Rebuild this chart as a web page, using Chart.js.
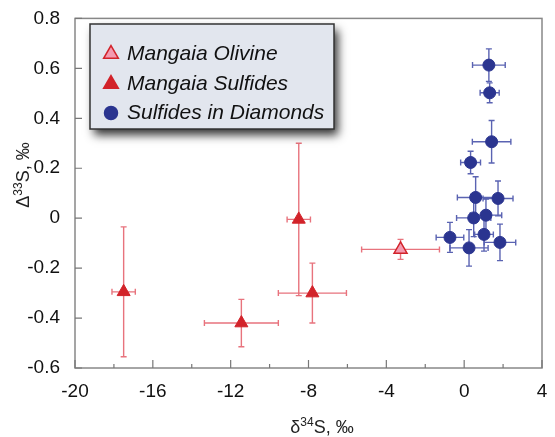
<!DOCTYPE html>
<html lang="en">
<head>
    <meta charset="UTF-8">
    <title>Sulfur isotopes</title>
    <script src="https://cdn.jsdelivr.net/npm/chart.js"></script>
    <style>
        body { margin: 0; background: #fff; }
    </style>
</head>
<body>
<canvas id="isoChart" width="555" height="437"></canvas>

<script>
    // Tick values
    var xTicks = [-20, -16, -12, -8, -4, 0, 4];
    var xMinorTicks = [-18, -14, -10, -6, -2, 2];
    var yTicks = [-0.6, -0.4, -0.2, 0, 0.2, 0.4, 0.6, 0.8];

    // Mangaia olivine
    var olivineX = [-3.27];
    var olivineY = [-0.125];
    var olivineXErr = [2.0];
    var olivineYErr = [0.04];

    // Mangaia sulfides
    var sulfideX = [-17.5, -11.45, -8.5, -7.8];
    var sulfideY = [-0.295, -0.42, -0.005, -0.30];
    var sulfideXErr = [0.6, 1.9, 0.6, 1.75];
    var sulfideYErr = [0.26, 0.095, 0.305, 0.12];

    // Sulfides in diamonds
    var diamondX = [1.27, 1.31, 1.41, 0.33, 0.59, 1.74, 0.49, 1.12, -0.73, 1.02, 0.25, 1.84];
    var diamondY = [0.613, 0.502, 0.306, 0.223, 0.083, 0.079, 0.001, 0.012, -0.077, -0.065, -0.119, -0.097];
    var diamondXErr = [0.84, 0.49, 0.99, 0.51, 0.94, 0.77, 0.88, 0.81, 0.71, 0.48, 0.98, 0.81];
    var diamondYErr = [0.065, 0.04, 0.085, 0.045, 0.083, 0.07, 0.075, 0.065, 0.06, 0.067, 0.073, 0.073];

    var FONT = '"Liberation Sans", Arial, sans-serif';
    var RED = '#d2232a';
    var PINK = '#f49ab0';
    var BLUE = '#2b3590';

    function toPoints(xs, ys, xe, ye) {
        return xs.map(function(x, i) {
            return { x: x, y: ys[i], xErr: xe[i], yErr: ye[i] };
        });
    }

    // error bars, drawn under the markers
    var errorBars = {
        id: 'errorBars',
        beforeDatasetsDraw: function(chart) {
            var ctx = chart.ctx;
            var xs = chart.scales.x, ys = chart.scales.y;
            chart.data.datasets.forEach(function(ds) {
                ctx.save();
                ctx.strokeStyle = ds.errColor;
                ctx.lineWidth = 1.4;
                ds.data.forEach(function(p) {
                    var cx = xs.getPixelForValue(p.x), cy = ys.getPixelForValue(p.y);
                    var x0 = xs.getPixelForValue(p.x - p.xErr), x1 = xs.getPixelForValue(p.x + p.xErr);
                    var y0 = ys.getPixelForValue(p.y - p.yErr), y1 = ys.getPixelForValue(p.y + p.yErr);
                    var c = 3;
                    ctx.beginPath();
                    ctx.moveTo(x0, cy); ctx.lineTo(x1, cy);
                    ctx.moveTo(x0, cy - c); ctx.lineTo(x0, cy + c);
                    ctx.moveTo(x1, cy - c); ctx.lineTo(x1, cy + c);
                    ctx.moveTo(cx, y0); ctx.lineTo(cx, y1);
                    ctx.moveTo(cx - c, y0); ctx.lineTo(cx + c, y0);
                    ctx.moveTo(cx - c, y1); ctx.lineTo(cx + c, y1);
                    ctx.stroke();
                });
                ctx.restore();
            });
        }
    };

    // frame, inward ticks, axis titles and the legend box
    var decorations = {
        id: 'decorations',
        beforeDatasetsDraw: function(chart) {
            var ctx = chart.ctx, a = chart.chartArea;
            var xs = chart.scales.x, ys = chart.scales.y;
            ctx.save();
            ctx.strokeStyle = '#888';
            ctx.lineWidth = 1.5;
            ctx.strokeRect(a.left, a.top, a.right - a.left, a.bottom - a.top);
            ctx.strokeStyle = '#777';
            ctx.lineWidth = 1.2;
            ctx.beginPath();
            yTicks.forEach(function(v) {
                var y = ys.getPixelForValue(v);
                ctx.moveTo(a.left, y); ctx.lineTo(a.left + 7, y);
            });
            xTicks.forEach(function(v) {
                var x = xs.getPixelForValue(v);
                ctx.moveTo(x, a.bottom); ctx.lineTo(x, a.bottom - 8);
            });
            xMinorTicks.forEach(function(v) {
                var x = xs.getPixelForValue(v);
                ctx.moveTo(x, a.bottom); ctx.lineTo(x, a.bottom - 4);
            });
            ctx.stroke();
            ctx.restore();
        },
        afterDraw: function(chart) {
            var ctx = chart.ctx;
            ctx.save();

            // axis titles with superscripts
            function title(pre, sup, post, cx, cy) {
                ctx.font = '18px ' + FONT;
                var w1 = ctx.measureText(pre).width;
                var w3 = ctx.measureText(post).width;
                ctx.font = '12px ' + FONT;
                var w2 = ctx.measureText(sup).width;
                var x = cx - (w1 + w2 + w3) / 2;
                ctx.fillStyle = '#222';
                ctx.textBaseline = 'alphabetic';
                ctx.textAlign = 'left';
                ctx.font = '18px ' + FONT;
                ctx.fillText(pre, x, cy + 6);
                ctx.font = '12px ' + FONT;
                ctx.fillText(sup, x + w1, cy - 1);
                ctx.font = '18px ' + FONT;
                ctx.fillText(post, x + w1 + w2, cy + 6);
            }
            title('\u03b4', '34', 'S, \u2030', 322, 427);
            ctx.save();
            ctx.translate(23, 175);
            ctx.rotate(-Math.PI / 2);
            title('\u0394', '33', 'S, \u2030', 0, 0);
            ctx.restore();

            // legend box with shadow
            var lx = 90, ly = 24, lw = 244, lh = 105;
            ctx.save();
            ctx.shadowColor = 'rgba(0,0,0,0.8)';
            ctx.shadowBlur = 9;
            ctx.shadowOffsetX = 4;
            ctx.shadowOffsetY = 6;
            ctx.fillStyle = '#e2e6ee';
            ctx.fillRect(lx, ly, lw, lh);
            ctx.restore();
            ctx.strokeStyle = '#333';
            ctx.lineWidth = 1.5;
            ctx.strokeRect(lx, ly, lw, lh);

            var items = [
                { text: 'Mangaia Olivine', style: 'triangle', fill: PINK, stroke: RED, y: 54 },
                { text: 'Mangaia Sulfides', style: 'triangle', fill: RED, stroke: RED, y: 84 },
                { text: 'Sulfides in Diamonds', style: 'circle', fill: BLUE, stroke: BLUE, y: 113 }
            ];
            items.forEach(function(it) {
                ctx.fillStyle = it.fill;
                ctx.strokeStyle = it.stroke;
                ctx.lineWidth = 1.5;
                Chart.helpers.drawPoint(ctx, {
                    pointStyle: it.style,
                    radius: it.style === 'circle' ? 6.5 : 8.5,
                    borderWidth: 1.5,
                    rotation: 0
                }, 111, it.y);
                ctx.fillStyle = '#111';
                ctx.font = 'italic 21px ' + FONT;
                ctx.textAlign = 'left';
                ctx.textBaseline = 'middle';
                ctx.fillText(it.text, 127, it.y);
            });
            ctx.restore();
        }
    };

    var isoCtx = document.getElementById('isoChart').getContext('2d');

    new Chart(isoCtx, {
        type: 'scatter',
        data: {
            datasets: [{
                label: 'Mangaia Olivine',
                data: toPoints(olivineX, olivineY, olivineXErr, olivineYErr),
                pointStyle: 'triangle',
                pointRadius: 7.5,
                backgroundColor: PINK,
                borderColor: RED,
                borderWidth: 1.5,
                errColor: '#e8737d'
            }, {
                label: 'Mangaia Sulfides',
                data: toPoints(sulfideX, sulfideY, sulfideXErr, sulfideYErr),
                pointStyle: 'triangle',
                pointRadius: 7.5,
                backgroundColor: RED,
                borderColor: RED,
                borderWidth: 1,
                errColor: '#e8737d'
            }, {
                label: 'Sulfides in Diamonds',
                data: toPoints(diamondX, diamondY, diamondXErr, diamondYErr),
                pointStyle: 'circle',
                pointRadius: 6,
                backgroundColor: BLUE,
                borderColor: BLUE,
                borderWidth: 1,
                errColor: '#5a63b2'
            }]
        },
        options: {
            responsive: false,
            devicePixelRatio: 1,
            animation: false,
            layout: { padding: { top: 18, right: 13, left: 0, bottom: 0 } },
            plugins: {
                legend: { display: false },
                tooltip: { enabled: false }
            },
            scales: {
                x: {
                    type: 'linear',
                    min: -20,
                    max: 4,
                    afterBuildTicks: function(s) { s.ticks = xTicks.map(function(v) { return { value: v }; }); },
                    afterFit: function(s) { s.height = 69; },
                    grid: { display: false },
                    border: { display: false },
                    ticks: {
                        padding: 4,
                        color: '#111',
                        font: { size: 19, family: FONT },
                        maxRotation: 0
                    }
                },
                y: {
                    type: 'linear',
                    min: -0.6,
                    max: 0.8,
                    afterBuildTicks: function(s) { s.ticks = yTicks.map(function(v) { return { value: v }; }); },
                    afterFit: function(s) { s.width = 75; },
                    grid: { display: false },
                    border: { display: false },
                    ticks: {
                        padding: 7,
                        color: '#111',
                        font: { size: 19, family: FONT },
                        callback: function(v) {
                            return Math.abs(v) < 1e-9 ? '0' : v.toFixed(1);
                        }
                    }
                }
            }
        },
        plugins: [decorations, errorBars]
    });
</script>
</body>
</html>
